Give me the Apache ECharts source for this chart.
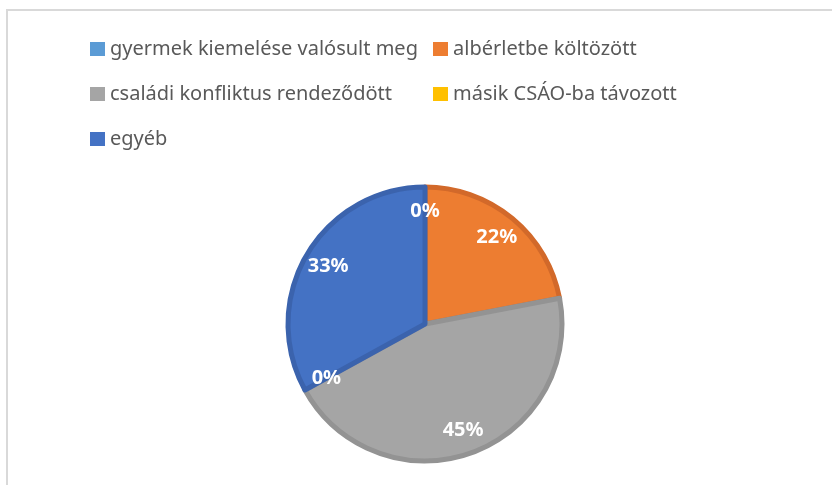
<!DOCTYPE html>
<html>
<head>
<meta charset="utf-8">
<script src="https://cdn.jsdelivr.net/npm/echarts@6/dist/echarts.min.js"></script>
<style>
  html, body { margin: 0; padding: 0; background: #fff; }
  #chart { width: 832px; height: 485px; }
</style>
</head>
<body>
<div id="chart"></div>
<script>
// categories and values (percent)
var categories = ['gyermek kiemelése valósult meg', 'albérletbe költözött', 'családi konfliktus rendeződött', 'másik CSÁO-ba távozott', 'egyéb'];
var values = [0, 22, 45, 0, 33];
var colors = ['#5B9BD5', '#ED7D31', '#A5A5A5', '#FFC000', '#4472C4'];
var edgeColors = ['#4F86BA', '#D2692A', '#939393', '#DDA800', '#3B63AD'];

var chart = echarts.init(document.getElementById('chart'));

var pieData = [];
var labelData = [];
var legendData = [];
for (var i = 0; i < categories.length; i++) {
  pieData.push({
    name: categories[i],
    value: values[i],
    itemStyle: {
      color: colors[i],
      borderColor: edgeColors[i],
      borderWidth: values[i] > 0 ? 5 : 0
    }
  });
  labelData.push({ name: categories[i], value: values[i] });
  legendData.push({
    name: categories[i],
    itemStyle: { color: colors[i], borderWidth: 0 }
  });
}

var option = {
  animation: false,
  graphic: [{
    type: 'rect',
    shape: { x: 7, y: 10, width: 900, height: 600 },
    style: { fill: 'none', stroke: '#d9d9d9', lineWidth: 2 },
    silent: true
  }],
  legend: {
    left: 90,
    top: 29,
    padding: 0,
    width: 700,
    itemWidth: 15,
    itemHeight: 14,
    itemGap: 5,
    icon: 'rect',
    data: legendData,
    textStyle: {
      fontFamily: 'Noto Sans',
      fontSize: 20,
      color: '#595959',
      width: 318,
      lineHeight: 40
    }
  },
  series: [
    {
      type: 'pie',
      center: [425, 324],
      radius: [0, 137],
      startAngle: 90,
      clockwise: true,
      silent: true,
      label: { show: false },
      labelLine: { show: false },
      data: pieData
    },
    {
      // label ring, transparent, keeps labels at ~0.8 of the radius
      type: 'pie',
      center: [425, 324],
      radius: [80, 139],
      startAngle: 90,
      clockwise: true,
      silent: true,
      itemStyle: { color: 'rgba(0,0,0,0)', borderWidth: 0 },
      label: {
        show: true,
        position: 'inside',
        formatter: function (p) { return p.value + '%'; },
        color: '#fff',
        fontFamily: 'Noto Sans',
        fontWeight: 'bold',
        fontSize: 20
      },
      labelLine: { show: false },
      data: labelData
    }
  ]
};

chart.setOption(option);
</script>
</body>
</html>
